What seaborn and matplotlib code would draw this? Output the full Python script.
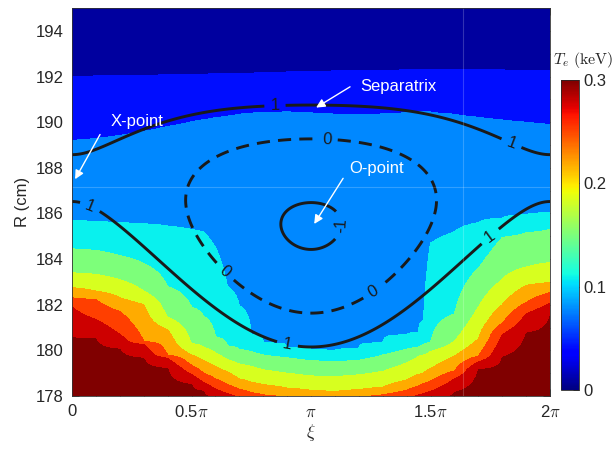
import numpy as np
import matplotlib
matplotlib.use('Agg')
import matplotlib.pyplot as plt
import seaborn as sns
from matplotlib.ticker import MultipleLocator

xi_cols = [0, 0.1, 0.2, 0.3, 0.4, 0.5, 0.55, 0.6, 0.65, 0.7, 0.75, 0.8, 0.9,
           1.0, 1.1, 1.2, 1.3, 1.4, 1.45, 1.47, 1.5, 1.6, 1.7, 1.8, 1.9, 2.0]

# R (cm) of each band edge, from the top (cold) to the bottom (hot)
edge_1 = [192.0, 192.02, 192.04, 192.05, 192.07, 192.1, 192.1, 192.12, 192.13, 192.14, 192.15, 192.16, 192.2,
          192.22, 192.24, 192.25, 192.27, 192.28, 192.3, 192.3, 192.3, 192.3, 192.3, 192.28, 192.27, 192.25]
edge_2 = [189.2, 189.28, 189.42, 189.6, 189.82, 190.03, 190.12, 190.2, 190.28, 190.35, 190.4, 190.43, 190.46,
          190.42, 190.36, 190.33, 190.38, 190.43, 190.45, 190.45, 190.45, 190.35, 190.22, 190.1, 190.0, 189.9]
edge_3 = [185.7, 185.65, 185.6, 185.55, 185.45, 185.3, 185.2, 184.5, 182.8, 181.95, 180.7, 180.35, 180.15,
          180.05, 180.0, 180.1, 180.35, 180.7, 180.8, 181.3, 184.7, 185.2, 185.6, 185.8, 185.95, 186.05]
edge_4 = [184.45, 184.38, 184.15, 183.8, 182.8, 181.9, 181.5, 180.6, 180.2, 180.05, 179.95, 179.8, 179.68,
          179.55, 179.5, 179.57, 179.8, 180.05, 180.15, 180.25, 180.35, 181.6, 183.6, 184.95, 185.15, 185.3]
edge_5 = [183.4, 183.33, 183.1, 182.6, 181.45, 180.3, 180.15, 179.9, 179.6, 179.4, 179.3, 179.15, 179.0,
          178.88, 178.85, 178.93, 179.08, 179.45, 179.75, 179.8, 179.95, 180.4, 181.9, 183.1, 183.65, 183.85]
edge_6 = [182.75, 182.6, 182.3, 182.0, 180.9, 179.8, 179.55, 179.3, 179.05, 178.75, 178.6, 178.5, 178.35,
          178.25, 178.2, 178.28, 178.38, 178.7, 178.95, 179.0, 179.2, 179.75, 180.5, 182.0, 182.85, 182.97]
edge_7 = [182.3, 182.22, 181.7, 180.4, 179.8, 179.35, 179.0, 178.75, 178.5, 178.3, 178.15, 178.05, 177.95,
          177.9, 177.9, 177.95, 178.05, 178.25, 178.45, 178.55, 178.65, 179.1, 179.75, 181.2, 182.1, 182.53]
edge_8 = [181.9, 181.35, 180.7, 180.25, 179.65, 178.95, 178.6, 178.3, 178.1, 177.95, 177.8, 177.7, 177.6,
          177.5, 177.5, 177.6, 177.7, 177.9, 178.05, 178.1, 178.2, 178.75, 179.5, 180.7, 181.6, 182.07]
edge_9 = [180.55, 180.5, 180.05, 179.65, 179.2, 178.5, 178.2, 177.9, 177.7, 177.5, 177.3, 177.2, 177.0,
          177.0, 177.0, 177.1, 177.2, 177.4, 177.6, 177.7, 177.8, 178.15, 179.15, 179.7, 180.75, 181.5]

# Te (keV) on each edge, same order
te_edges = [0.02, 0.045, 0.08, 0.11, 0.14, 0.17, 0.20, 0.23, 0.26]
# where each band sits on the jet colour bar (0..1), cold to hot
band_pos = [0.03, 0.14, 0.26, 0.36, 0.50, 0.61, 0.73, 0.84, 0.93, 1.0]

# flux function of the island
R0 = 186.5        # island centre
R_shift = 1.05    # centre moves by this with cos(xi)
half_w = 5.2      # half width of the island
o_depth = 0.078   # O-point below -1
flux_levels = [-1, 0, 1]

sns.set_theme(style='ticks')
plt.rcParams['font.family'] = ['Liberation Sans', 'DejaVu Sans']
plt.rcParams['mathtext.fontset'] = 'cm'
plt.rcParams['lines.dashed_pattern'] = [4.5, 2.8]

fig = plt.figure(figsize=(6.16, 4.49), dpi=100)
ax = fig.add_axes([0.117, 0.118, 0.776, 0.864])

jet = matplotlib.colormaps['jet']

# Te field built column by column from the read edges
edges = np.array([edge_1, edge_2, edge_3, edge_4, edge_5, edge_6, edge_7, edge_8, edge_9])
xi_c = np.array(xi_cols) * np.pi
r_fine = np.linspace(176, 196, 401)
te = np.zeros((len(r_fine), len(xi_c)))
for j in range(len(xi_c)):
    rr = np.concatenate([[176.0], edges[::-1, j], [196.0]])
    tt = np.concatenate([[0.3], te_edges[::-1], [0.0]])
    te[:, j] = np.interp(r_fine, rr, tt)

levels = [-0.01] + te_edges + [0.31]
colors = [jet(p) for p in band_pos]
ax.contourf(xi_c, r_fine, te, levels=levels, colors=colors)

# flux surfaces
xg = np.linspace(0, 2 * np.pi, 500)
rg = np.linspace(177, 196, 500)
XI, RR = np.meshgrid(xg, rg)
rc = R0 + R_shift * np.cos(XI)
psi = 2 * (RR - rc) ** 2 / half_w ** 2 + np.cos(XI) - o_depth
cs = ax.contour(XI, RR, psi, levels=flux_levels, colors='k', linewidths=2.1,
                linestyles=['solid', 'dashed', 'solid'])
label_pos = [(0.849 * np.pi, 190.7), (1.833 * np.pi, 188.9), (0.075 * np.pi, 186.3),
             (0.9 * np.pi, 180.2), (1.749 * np.pi, 185.0), (1.067 * np.pi, 189.2),
             (0.64 * np.pi, 183.5), (1.26 * np.pi, 182.5), (1.109 * np.pi, 185.5)]
ax.clabel(cs, fmt={-1: '-1', 0: '0', 1: '1'}, manual=label_pos, inline=True,
          fontsize=12, inline_spacing=6)

# faint seams of the original rendering
ax.axhline(187.15, color='white', alpha=0.2, lw=0.8)
ax.axvline(1.636 * np.pi, color='white', alpha=0.2, lw=0.8)

# annotations
arrow = dict(arrowstyle='-|>', color='white', lw=1.0, mutation_scale=13, shrinkA=0, shrinkB=0)
ax.annotate('', xy=(0.0126 * np.pi, 187.5), xytext=(0.117 * np.pi, 189.46), arrowprops=arrow)
ax.text(0.272 * np.pi, 190.03, 'X-point', color='white', fontsize=12, ha='center', va='center')
ax.annotate('', xy=(1.021 * np.pi, 190.64), xytext=(1.163 * np.pi, 191.55), arrowprops=arrow)
ax.text(1.364 * np.pi, 191.57, 'Separatrix', color='white', fontsize=12, ha='center', va='center')
ax.annotate('', xy=(1.013 * np.pi, 185.54), xytext=(1.134 * np.pi, 187.54), arrowprops=arrow)
ax.text(1.276 * np.pi, 187.98, 'O-point', color='white', fontsize=12, ha='center', va='center')

ax.set_xlim(0, 2 * np.pi)
ax.set_ylim(178, 195)
ax.set_xticks([0, 0.5 * np.pi, np.pi, 1.5 * np.pi, 2 * np.pi])
ax.set_xticklabels(['0', r'0.5$\pi$', r'$\pi$', r'1.5$\pi$', r'2$\pi$'])
ax.set_yticks(np.arange(178, 195, 2))
ax.xaxis.set_minor_locator(MultipleLocator(0.1 * np.pi))
ax.yaxis.set_minor_locator(MultipleLocator(1))
ax.tick_params(which='both', direction='in', top=True, right=True, color='0.2',
               labelsize=12, labelcolor='0.15', width=0.6)
ax.tick_params(which='major', length=5, pad=6)
ax.tick_params(which='minor', length=3)
for s in ax.spines.values():
    s.set_linewidth(0.6)
    s.set_color('0.2')
ax.set_xlabel(r'$\xi$', fontsize=13, labelpad=2)
ax.set_ylabel('R (cm)', fontsize=12, color='0.15', labelpad=4)

# colour bar
cax = fig.add_axes([0.9107, 0.1314, 0.0292, 0.690])
sm = plt.cm.ScalarMappable(norm=plt.Normalize(0, 0.3), cmap=jet)
cb = fig.colorbar(sm, cax=cax, ticks=[0, 0.1, 0.2, 0.3])
cb.ax.set_yticklabels(['0', '0.1', '0.2', '0.3'])
cb.ax.tick_params(direction='in', length=4, width=0.6, labelsize=12, labelcolor='0.15', color='0.2')
cb.outline.set_linewidth(0.6)
fig.text(583 / 616, 1 - 60 / 449, r'$T_e\ (\mathrm{keV})$', fontsize=11.5, ha='center', va='center')

fig.savefig('out.png', dpi=100)
